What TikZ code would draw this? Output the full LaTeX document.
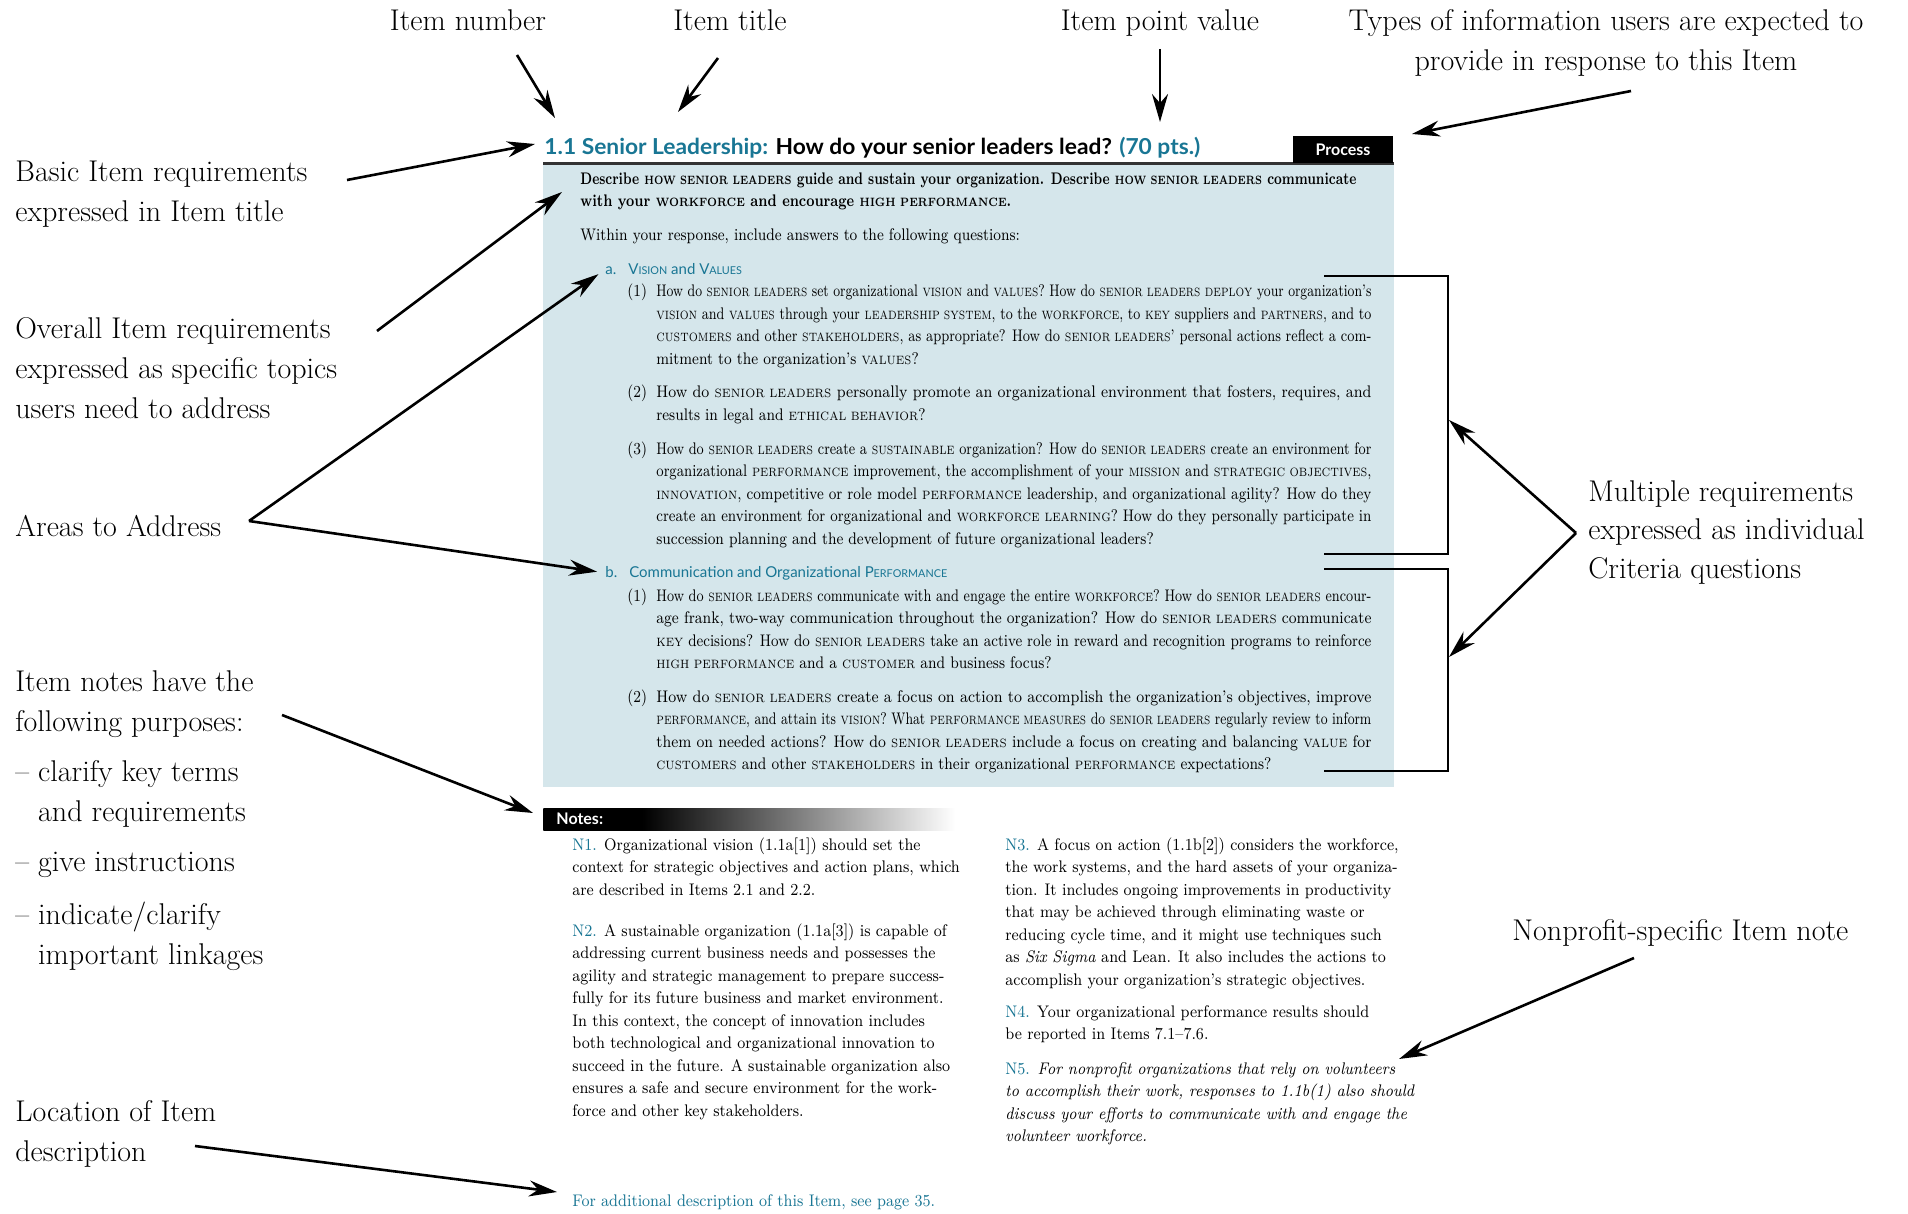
\documentclass[tikz,border=0pt]{standalone}
\usepackage{fontspec}
\newfontfamily\hdfont{Lato}
\usetikzlibrary{arrows.meta}
\definecolor{boxblue}{RGB}{213,230,235}
\definecolor{tealc}{RGB}{25,118,148}
\pgfdeclarehorizontalshading{notesshade}{100bp}{color(0bp)=(black); color(37bp)=(black); color(75bp)=(white); color(100bp)=(white)}
\makeatletter
\newdimen\ktdim
\newcommand\kt[1]{{\ktdim=\f@size pt\relax\ktdim=0.72\ktdim\relax\fontsize{\strip@pt\ktdim}{\f@baselineskip}\selectfont\MakeUppercase{#1}}}
\makeatother
\newcommand\JL[2][357.5pt]{\resizebox{#1}{\height}{#2}}
\newcommand\LL[2][0.86]{\scalebox{#1}[1]{#2}}
\newcommand\IT[1]{\makebox[0pt][r]{\makebox[14.5pt][l]{\scalebox{0.86}[1]{#1}}}}
\newcommand\SL[1]{\scalebox{0.9}[1]{#1}}
\newcommand\NL[1]{\textcolor{tealc}{#1}}
\tikzset{
  lbl/.style={font=\fontsize{15}{20}\selectfont, inner sep=0pt, align=left},
  bodytxt/.style={font=\fontsize{8.4}{11.25}\selectfont, inner sep=0pt, align=left, anchor=north west},
  headtxt/.style={inner sep=0pt, anchor=base west, text=tealc, font=\hdfont\fontsize{7.5}{9}\selectfont},
  arr/.style={line width=1.3pt, -{Stealth[length=14pt,width=8pt]}},
  brk/.style={line width=1pt},
}
\begin{document}
\begin{tikzpicture}[x=0.5pt,y=-0.5pt]
\fill[white] (0,0) rectangle (1908,1214);
\useasboundingbox (0,0) rectangle (1908,1214);

% item panel
\fill[boxblue] (543,165) rectangle (1394,787);
\draw[line width=1.5pt, black!80] (543,163.5) -- (1394,163.5);
\node[anchor=base west, inner sep=0pt] (title) at (544,155)
  {\resizebox{328pt}{\height}{\hdfont\bfseries\fontsize{11}{13}\selectfont\textcolor{tealc}{1.1 Senior Leadership:} How do your senior leaders lead? \textcolor{tealc}{(70 pts.)}}};
\node[fill=black, text=white, font=\hdfont\bfseries\fontsize{8}{9}\selectfont, minimum width=50pt, minimum height=13.5pt, inner sep=0pt] (proc) at (1343,149.5) {Process};

\node[bodytxt, font=\bfseries\fontsize{8.4}{11.25}\selectfont] (intro) at (580,172)
  {\JL[388pt]{Describe \kt{how senior leaders} guide and sustain your organization. Describe \kt{how senior leaders} communicate}\\
   \LL[0.8]{with your \kt{workforce} and encourage \kt{high performance}.}};
\node[bodytxt] (within) at (580,228) {\LL{Within your response, include answers to the following questions:}};

\node[headtxt] (ahd) at (605,275) {a.\hspace{6pt}V\kt{ision} and V\kt{alues}};
\node[bodytxt] (a1) at (656,284)
  {\IT{(1)}\JL{How do \kt{senior leaders} set organizational \kt{vision} and \kt{values}? How do \kt{senior leaders} \kt{deploy} your organization's}\\
   \JL{\kt{vision} and \kt{values} through your \kt{leadership system}, to the \kt{workforce}, to \kt{key} suppliers and \kt{partners}, and to}\\
   \JL{\kt{customers} and other \kt{stakeholders}, as appropriate? How do \kt{senior leaders}' personal actions reflect a com-}\\
   \LL{mitment to the organization's \kt{values}?}};
\node[bodytxt] (a2) at (656,385)
  {\IT{(2)}\JL{How do \kt{senior leaders} personally promote an organizational environment that fosters, requires, and}\\
   \LL{results in legal and \kt{ethical behavior}?}};
\node[bodytxt] (a3) at (656,441)
  {\IT{(3)}\JL{How do \kt{senior leaders} create a \kt{sustainable} organization? How do \kt{senior leaders} create an environment for}\\
   \JL{organizational \kt{performance} improvement, the accomplishment of your \kt{mission} and \kt{strategic objectives},}\\
   \JL{\kt{innovation}, competitive or role model \kt{performance} leadership, and organizational agility? How do they}\\
   \JL{create an environment for organizational and \kt{workforce} \kt{learning}? How do they personally participate in}\\
   \LL{succession planning and the development of future organizational leaders?}};

\node[headtxt] (bhd) at (605,577) {b.\hspace{6pt}Communication and Organizational P\kt{erformance}};
\node[bodytxt] (b1) at (656,588)
  {\IT{(1)}\JL{How do \kt{senior leaders} communicate with and engage the entire \kt{workforce}? How do \kt{senior leaders} encour-}\\
   \JL{age frank, two-way communication throughout the organization? How do \kt{senior leaders} communicate}\\
   \JL{\kt{key} decisions? How do \kt{senior leaders} take an active role in reward and recognition programs to reinforce}\\
   \LL{\kt{high performance} and a \kt{customer} and business focus?}};
\node[bodytxt] (b2) at (656,689)
  {\IT{(2)}\JL{How do \kt{senior leaders} create a focus on action to accomplish the organization's objectives, improve}\\
   \JL{\kt{performance}, and attain its \kt{vision}? What \kt{performance measures} do \kt{senior leaders} regularly review to inform}\\
   \JL{them on needed actions? How do \kt{senior leaders} include a focus on creating and balancing \kt{value} for}\\
   \LL{\kt{customers} and other \kt{stakeholders} in their organizational \kt{performance} expectations?}};

% brackets
\draw[brk] (1324,276) -- (1448,276) -- (1448,554) -- (1324,554);
\draw[brk] (1324,569) -- (1448,569) -- (1448,771) -- (1324,771);

% notes
\node[anchor=north west, minimum width=206pt, minimum height=11pt, inner sep=0pt, shade, shading=notesshade] (notesbar) at (543,808) {};
\node[anchor=west, text=white, font=\hdfont\bfseries\fontsize{8}{9}\selectfont, inner sep=0pt] (notestxt) at (556,819) {Notes:};

\node[bodytxt] (n1) at (572,837)
  {\SL{\NL{N1.} Organizational vision (1.1a[1]) should set the}\\
   \SL{context for strategic objectives and action plans, which}\\
   \SL{are described in Items 2.1 and 2.2.}};
\node[bodytxt] (n2) at (572,923)
  {\SL{\NL{N2.} A sustainable organization (1.1a[3]) is capable of}\\
   \SL{addressing current business needs and possesses the}\\
   \SL{agility and strategic management to prepare success-}\\
   \SL{fully for its future business and market environment.}\\
   \SL{In this context, the concept of innovation includes}\\
   \SL{both technological and organizational innovation to}\\
   \SL{succeed in the future. A sustainable organization also}\\
   \SL{ensures a safe and secure environment for the work-}\\
   \SL{force and other key stakeholders.}};
\node[bodytxt] (n3) at (1005,837)
  {\SL{\NL{N3.} A focus on action (1.1b[2]) considers the workforce,}\\
   \SL{the work systems, and the hard assets of your organiza-}\\
   \SL{tion. It includes ongoing improvements in productivity}\\
   \SL{that may be achieved through eliminating waste or}\\
   \SL{reducing cycle time, and it might use techniques such}\\
   \SL{as \emph{Six Sigma} and Lean. It also includes the actions to}\\
   \SL{accomplish your organization's strategic objectives.}};
\node[bodytxt] (n4) at (1005,1005)
  {\SL{\NL{N4.} Your organizational performance results should}\\
   \SL{be reported in Items 7.1--7.6.}};
\node[bodytxt, font=\itshape\fontsize{8.4}{11.25}\selectfont] (n5) at (1005,1062)
  {\SL{\NL{\upshape N5.} For nonprofit organizations that rely on volunteers}\\
   \SL{to accomplish their work, responses to 1.1b(1) also should}\\
   \SL{discuss your efforts to communicate with and engage the}\\
   \SL{volunteer workforce.}};
\node[inner sep=0pt, anchor=base west, text=tealc, font=\fontsize{8.4}{11}\selectfont] (footer) at (572,1206)
  {\SL{For additional description of this Item, see page 35.}};

% labels
\node[lbl, anchor=base] (lnum) at (468,31) {Item number};
\node[lbl, anchor=base] (ltitle) at (730,31) {Item title};
\node[lbl, anchor=base] (lpts) at (1160,31) {Item point value};
\node[lbl, align=center, anchor=north] (ltypes) at (1606,9) {Types of information users are expected to\\provide in response to this Item};
\node[lbl, anchor=north west] (lbasic) at (15,161) {Basic Item requirements\\expressed in Item title};
\node[lbl, anchor=north west] (loverall) at (15,317) {Overall Item requirements\\expressed as specific topics\\users need to address};
\node[lbl, anchor=base west] (lareas) at (15,536) {Areas to Address};
\node[lbl, anchor=north west] (lnotes) at (15,670) {Item notes have the\\following purposes:\\[5pt]– clarify key terms\\\phantom{– }and requirements\\[5pt]– give instructions\\[6.5pt]– indicate/clarify\\\phantom{– }important linkages};
\node[lbl, anchor=north west] (lloc) at (15,1100) {Location of Item\\description};
\node[lbl, anchor=north west, font=\fontsize{15}{19.25}\selectfont] (lmult) at (1588,480) {Multiple requirements\\expressed as individual\\Criteria questions};
\node[lbl, anchor=base west] (lnp) at (1512,940) {Nonprofit-specific Item note};

% arrow end points
\coordinate (numS) at (517,55);   \coordinate (numT) at (555,118);
\coordinate (titS) at (718,58);   \coordinate (titT) at (678,112);
\coordinate (ptsS) at (1160,49);  \coordinate (ptsT) at (1160,122);
\coordinate (typS) at (1631,91);  \coordinate (typT) at (1412,134);
\coordinate (basS) at (347,180);  \coordinate (basT) at (535,144);
\coordinate (ovS) at (377,331);   \coordinate (ovT) at (562,192);
\coordinate (arApex) at (249,521);
\coordinate (muApex) at (1576,533);
\coordinate (brA) at (1449,420);  \coordinate (brB) at (1449,657);
\coordinate (notS) at (282,715);  \coordinate (notT) at (533,813);
\coordinate (locS) at (195,1146); \coordinate (locT) at (557,1192);
\coordinate (npS) at (1634,958);  \coordinate (npT) at (1399,1059);

\draw[arr] (numS) -- (numT);
\draw[arr] (titS) -- (titT);
\draw[arr] (ptsS) -- (ptsT);
\draw[arr] (typS) -- (typT);
\draw[arr] (basS) -- (basT);
\draw[arr] (ovS) -- (ovT);
\draw[arr, shorten >=4pt] (arApex) -- (ahd.west);
\draw[arr, shorten >=4pt] (arApex) -- (bhd.west);
\draw[arr] (muApex) -- (brA);
\draw[arr] (muApex) -- (brB);
\draw[arr] (notS) -- (notT);
\draw[arr] (locS) -- (locT);
\draw[arr] (npS) -- (npT);
\end{tikzpicture}
\end{document}
